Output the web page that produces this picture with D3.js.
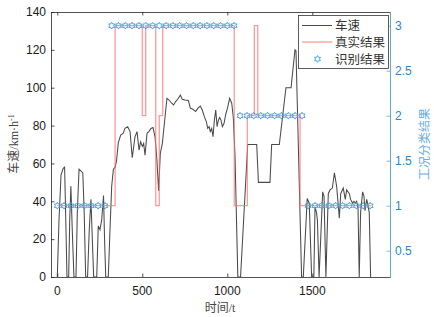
<!DOCTYPE html>
<html>
<head>
<meta charset="utf-8">
<script src="https://cdn.jsdelivr.net/npm/d3@7"></script>
<style>
  body { margin: 0; background: #fff; }
  text { font-family: "Liberation Sans", Arial, sans-serif; }
  .cjk { font-family: "Liberation Serif", "Noto Sans CJK SC", serif; }
</style>
</head>
<body>
<svg id="chart" width="434" height="317"></svg>
<script>
// speed trace (time in s, speed in km/h)
var speedT = [0,10,22,35,43,50,57,67,73,80,88,98,110,118,128,140,150,158,167,178,188,198,206,214,232,241,251,261,272,278,285,300,310,320,330,340,348,359,373,388,398,414,428,441,457,469,481,490,500,508,516,528,539,551,563,575,586,596,606,618,630,645,657,673,684,696,708,724,735,751,771,783,798,814,826,841,853,865,877,885,893,900,908,916,924,932,940,947,955,963,971,981,990,1002,1014,1026,1035,1045,1062,1078,1120,1173,1183,1251,1261,1306,1345,1375,1398,1404,1437,1447,1470,1482,1496,1509,1516,1525,1530,1540,1561,1569,1580,1594,1604,1618,1630,1643,1659,1667,1682,1694,1702,1718,1725,1737,1745,1753,1761,1769,1776,1784,1796,1804,1810,1820,1827,1835,1843];
var speedV = [0,30,54,57.4,58,30,0,0,30,48,25,0,0,35,57,56,55,35,0,0,25,41,20,0,0,27,25,30,43,20,0,0,25,48,57,58,61,71,75,76,78.5,79.4,76.8,63,74,76.8,67,71.5,69,70.6,64.4,76,76.8,78.5,79,74,61.8,45.6,65.4,70.6,81.2,94.4,93.5,91.8,90.9,92.7,93.9,96.1,93.9,93.5,93.2,89.1,88.6,87.4,89.1,90.3,88.2,84.7,82,78.5,79.4,76.8,78.5,74.1,82.9,88.2,79.4,82.6,84.3,82.9,79.4,81.2,85.6,89.6,94.4,91.8,84.7,65,0,0,70,70,50,50,70,70,100,100,120,119.5,0,0,41.5,39,0,0,37,34,30,0,45,42.6,0,44,46,47,55,48,31,44,47,41,46,44,41,39,40,39,40,36,0,34,45,42.6,35,41,38,34,0];

// true class (step: value holds from each time until the next)
var trueT = [0,340,500,520,579,600,620,1041,1118,1159,1179,1428,1845];
var trueV = [1,3,2,3,1,2,3,1,2,3,2,1,1];

// recognised class
var recogT = [0,40,80,120,160,200,240,280,320,360,400,440,480,520,560,600,640,680,720,760,800,840,880,920,960,1000,1040,1075,1116,1156,1197,1237,1278,1318,1359,1399,1440,1475,1516,1556,1597,1637,1678,1718,1759,1799,1840];
var recogV = [1,1,1,1,1,1,1,1,3,3,3,3,3,3,3,3,3,3,3,3,3,3,3,3,3,3,3,2,2,2,2,2,2,2,2,2,2,1,1,1,1,1,1,1,1,1,1];

var leftTicks = [0,20,40,60,80,100,120,140];
var rightTicks = [0.5,1,1.5,2,2.5,3];
var xTicks = [0,500,1000,1500];

var svg = d3.select("#chart");
var L = 51, R = 390, T = 12, B = 277;
var blue = "#2a86d0", blueLine = "#5ea8e2";
var speedCol = "#4a4a4a", trueCol = "#ff7070";

var x = d3.scaleLinear().domain([-37, 1957]).range([L, R]);
var yL = d3.scaleLinear().domain([0, 140]).range([B, T]);
var yR = d3.scaleLinear().domain([0.208, 3.152]).range([B, T]);

svg.append("clipPath").attr("id", "clip")
  .append("rect").attr("x", L).attr("y", T).attr("width", R - L).attr("height", B - T);

var plot = svg.append("g").attr("clip-path", "url(#clip)");

// speed
var speed = speedT.map(function(t, i) { return [t, speedV[i]]; });
plot.append("path")
  .datum(speed)
  .attr("fill", "none")
  .attr("stroke", speedCol)
  .attr("stroke-width", 1.05)
  .attr("d", d3.line().x(function(d) { return x(d[0]); }).y(function(d) { return yL(d[1]); }));

// true result
var truth = trueT.map(function(t, i) { return [t, trueV[i]]; });
plot.append("path")
  .datum(truth)
  .attr("fill", "none")
  .attr("stroke", trueCol)
  .attr("stroke-opacity", 0.7)
  .attr("stroke-width", 1.3)
  .attr("d", d3.line().curve(d3.curveStepAfter)
    .x(function(d) { return x(d[0]); }).y(function(d) { return yR(d[1]); }));

// hexagram marker
function hexagram(r) {
  var pts = [];
  for (var k = 0; k < 12; k++) {
    var a = (k * 30 - 90) * Math.PI / 180;
    var rr = k % 2 === 0 ? r : r / Math.sqrt(3);
    pts.push([rr * Math.cos(a), rr * Math.sin(a)]);
  }
  return "M" + pts.map(function(p) { return p[0].toFixed(2) + "," + p[1].toFixed(2); }).join("L") + "Z";
}

plot.selectAll(".mk")
  .data(recogT)
  .enter()
  .append("path")
  .attr("class", "mk")
  .attr("transform", function(d, i) { return "translate(" + x(d) + "," + yR(recogV[i]) + ")"; })
  .attr("d", hexagram(3.4))
  .attr("fill", "none")
  .attr("stroke", "#3b9be6")
  .attr("stroke-width", 0.9);

// axes box
var axisCol = "#262626";
svg.append("line").attr("x1", L).attr("x2", R).attr("y1", T + 0.5).attr("y2", T + 0.5).attr("stroke", axisCol).attr("stroke-width", 0.8);
svg.append("line").attr("x1", L).attr("x2", R).attr("y1", B + 0.5).attr("y2", B + 0.5).attr("stroke", axisCol).attr("stroke-width", 0.8);
svg.append("line").attr("x1", L + 0.5).attr("x2", L + 0.5).attr("y1", T).attr("y2", B).attr("stroke", axisCol).attr("stroke-width", 0.8);
svg.append("line").attr("x1", R + 0.5).attr("x2", R + 0.5).attr("y1", T).attr("y2", B + 1).attr("stroke", blueLine).attr("stroke-width", 1);

// left ticks
var lg = svg.append("g");
lg.selectAll("line").data(leftTicks).enter().append("line")
  .attr("x1", L).attr("x2", L + 3.5)
  .attr("y1", function(d) { return yL(d) + 0.5; }).attr("y2", function(d) { return yL(d) + 0.5; })
  .attr("stroke", axisCol).attr("stroke-width", 0.8);
lg.selectAll("text").data(leftTicks).enter().append("text")
  .attr("x", L - 5).attr("y", function(d) { return yL(d); })
  .attr("dy", "0.36em").attr("text-anchor", "end")
  .attr("font-size", 12).attr("fill", "#1a1a1a")
  .text(function(d) { return d; });

// bottom/top ticks
var bg = svg.append("g");
bg.selectAll("line.b").data(xTicks).enter().append("line").attr("class", "b")
  .attr("x1", function(d) { return x(d) + 0.5; }).attr("x2", function(d) { return x(d) + 0.5; })
  .attr("y1", B).attr("y2", B - 3.5).attr("stroke", axisCol).attr("stroke-width", 0.8);
bg.selectAll("line.t").data(xTicks).enter().append("line").attr("class", "t")
  .attr("x1", function(d) { return x(d) + 0.5; }).attr("x2", function(d) { return x(d) + 0.5; })
  .attr("y1", T).attr("y2", T + 3.5).attr("stroke", axisCol).attr("stroke-width", 0.8);
bg.selectAll("text").data(xTicks).enter().append("text")
  .attr("x", function(d) { return x(d); }).attr("y", B + 18)
  .attr("text-anchor", "middle")
  .attr("font-size", 12).attr("fill", "#1a1a1a")
  .text(function(d) { return d; });

// right ticks
var rg = svg.append("g");
rg.selectAll("line").data(rightTicks).enter().append("line")
  .attr("x1", R).attr("x2", R - 3.5)
  .attr("y1", function(d) { return yR(d) + 0.5; }).attr("y2", function(d) { return yR(d) + 0.5; })
  .attr("stroke", blueLine).attr("stroke-width", 0.8);
rg.selectAll("text").data(rightTicks).enter().append("text")
  .attr("x", R + 5).attr("y", function(d) { return yR(d); })
  .attr("dy", "0.36em").attr("text-anchor", "start")
  .attr("font-size", 12).attr("fill", blue)
  .text(function(d) { return d; });

// axis titles
var yl = svg.append("text").attr("class", "cjk")
  .attr("transform", "translate(18,144) rotate(-90)")
  .attr("text-anchor", "middle").attr("font-size", 12).attr("fill", "#444");
yl.append("tspan").text("车速/km·h");
yl.append("tspan").attr("dy", -4).attr("font-size", 8).text("-1");

svg.append("text").attr("class", "cjk")
  .attr("transform", "translate(429,144) rotate(-90)")
  .attr("text-anchor", "middle").attr("font-size", 12).attr("fill", "#6aaee3")
  .text("工况分类结果");

svg.append("text").attr("class", "cjk")
  .attr("x", 220).attr("y", 312)
  .attr("text-anchor", "middle").attr("font-size", 12).attr("fill", "#444")
  .text("时间/t");

// legend
var leg = svg.append("g");
leg.append("rect").attr("x", 298.5).attr("y", 15.5).attr("width", 90).attr("height", 53)
  .attr("fill", "#fff").attr("stroke", "#333").attr("stroke-width", 0.8);
var names = ["车速", "真实结果", "识别结果"];
var rowsY = [25.5, 42, 59];
leg.append("line").attr("x1", 302).attr("x2", 332).attr("y1", rowsY[0]).attr("y2", rowsY[0])
  .attr("stroke", speedCol).attr("stroke-width", 1.05);
leg.append("line").attr("x1", 302).attr("x2", 332).attr("y1", rowsY[1]).attr("y2", rowsY[1])
  .attr("stroke", trueCol).attr("stroke-opacity", 0.7).attr("stroke-width", 1.3);
leg.append("path").attr("transform", "translate(317.5," + rowsY[2] + ")")
  .attr("d", hexagram(3.4)).attr("fill", "none").attr("stroke", "#3b9be6").attr("stroke-width", 0.9);
leg.selectAll("text").data(names).enter().append("text").attr("class", "cjk")
  .attr("x", 335).attr("y", function(d, i) { return rowsY[i]; })
  .attr("dy", "0.36em").attr("font-size", 12.5).attr("fill", "#333")
  .text(function(d) { return d; });
</script>
</body>
</html>
